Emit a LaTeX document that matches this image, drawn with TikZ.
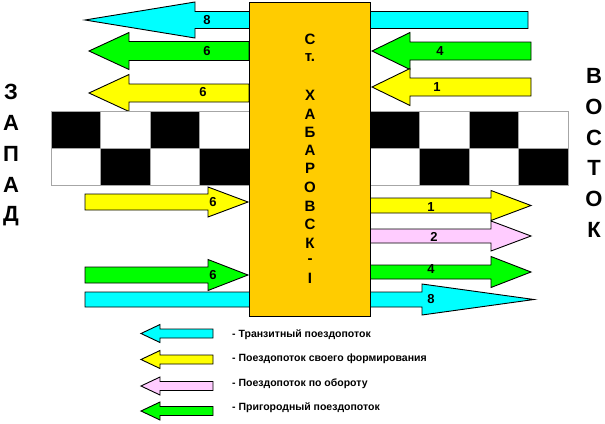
\documentclass[tikz,border=0pt]{standalone}
\usepackage{fontspec}
\setmainfont{Liberation Sans}
\definecolor{tcyan}{RGB}{0,255,255}
\definecolor{tgreen}{RGB}{0,255,0}
\definecolor{tyellow}{RGB}{255,255,0}
\definecolor{tpink}{RGB}{255,204,255}
\definecolor{station}{RGB}{255,204,0}
% colour, tip x, head-back x, tail x, centre y, shaft half height, head half height
\newcommand\flowarrow[7]{\filldraw[flow, fill=#1] (#2,#5) -- (#3,#5-#7) -- (#3,#5-#6) -- (#4,#5-#6) -- (#4,#5+#6) -- (#3,#5+#6) -- (#3,#5+#7) -- cycle;}
\begin{document}
\begin{tikzpicture}[x=1pt,y=-1pt,
  flow/.style={draw=black, line width=0.9pt, line join=miter},
  num/.style={font=\bfseries\fontsize{13}{13}\selectfont, inner sep=0pt},
  big/.style={font=\bfseries\fontsize{22}{22}\selectfont, inner sep=0pt},
  stl/.style={font=\bfseries\fontsize{15}{15}\selectfont, inner sep=0pt},
  leg/.style={font=\bfseries\fontsize{10.5}{11}\selectfont, inner sep=0pt, anchor=west},
  cell/.style={draw=gray!70, line width=0.6pt}]
\useasboundingbox (0,0) rectangle (605,423);

% through arrows (behind the station)
\flowarrow{tcyan}{85}{195}{528}{20}{8.5}{18}
\flowarrow{tcyan}{534}{422}{85}{299.5}{7.5}{15.5}

% left side, westbound
\flowarrow{tgreen}{89}{129}{249}{51}{9.5}{18.5}
\flowarrow{tyellow}{89}{129}{249}{93}{9}{18.5}
% right side, westbound into station
\flowarrow{tgreen}{372}{410}{531}{51}{9}{18.5}
\flowarrow{tyellow}{372}{410}{531}{87}{9}{18.5}
% left side, eastbound into station
\flowarrow{tyellow}{248}{208}{85}{202}{8}{15}
\flowarrow{tgreen}{248}{208}{85}{275}{8}{15.5}
% right side, eastbound
\flowarrow{tyellow}{531}{491}{370}{205.5}{7.5}{15}
\flowarrow{tpink}{531}{491}{370}{236}{7}{15}
\flowarrow{tgreen}{531}{491}{370}{272}{7}{15.5}

% checkerboards
\foreach \xa/\ca/\cb in {51/black/white, 100.5/white/black, 150/black/white, 199.5/white/black,
                         370/black/white, 419.5/white/black, 469/black/white, 518.5/white/black} {
  \filldraw[cell, fill=\ca] (\xa,111) rectangle ++(49.5,37);
  \filldraw[cell, fill=\cb] (\xa,148) rectangle ++(49.5,37);
}

% station
\node[draw=black, fill=station, line width=1.2pt, minimum width=121pt, minimum height=314pt,
      inner sep=0pt, anchor=north west] (station) at (249,2) {};
\foreach \t/\y [count=\i] in {С/39, т./58, Х/95, А/114, Б/132, А/150, Р/168, О/187, В/206, С/224, К/243, -/261, I/278}
  \node[stl] (st\i) at (310,\y) {\t};

% arrow numbers
\node[num] (n1) at (207,20) {8};
\node[num] (n2) at (207,51) {6};
\node[num] (n3) at (203,92) {6};
\node[num] (n4) at (440,51) {4};
\node[num] (n5) at (437,87) {1};
\node[num] (n6) at (213,202) {6};
\node[num] (n7) at (213,275) {6};
\node[num] (n8) at (431,207) {1};
\node[num] (n9) at (434,237) {2};
\node[num] (n10) at (431,269) {4};
\node[num] (n11) at (431,299) {8};

% west / east
\foreach \t/\y [count=\i] in {З/92, А/123, П/154, А/185, Д/216}
  \node[big] (w\i) at (11,\y) {\t};
\foreach \t/\y [count=\i] in {В/76, О/107, С/138, Т/168, О/199, К/230}
  \node[big] (e\i) at (594,\y) {\t};

% legend
\flowarrow{tcyan}{141}{160}{213}{333.5}{4.5}{9}
\flowarrow{tyellow}{141}{160}{213}{359.5}{4.5}{9}
\flowarrow{tpink}{141}{160}{213}{386}{4.5}{9}
\flowarrow{tgreen}{141}{160}{213}{411}{4.5}{9}
\node[leg] (l1) at (232,335) {- Транзитный поездопоток};
\node[leg] (l2) at (232,359) {- Поездопоток своего формирования};
\node[leg] (l3) at (232,384) {- Поездопоток по обороту};
\node[leg] (l4) at (232,408) {- Пригородный поездопоток};
\end{tikzpicture}
\end{document}
